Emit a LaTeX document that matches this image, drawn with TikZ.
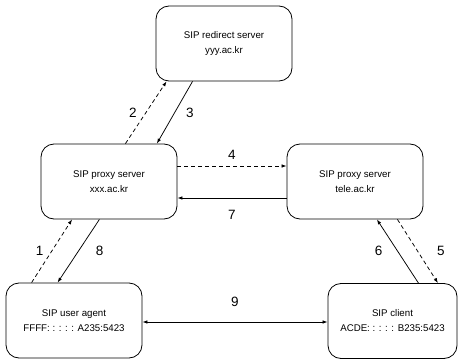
\documentclass[tikz,border=0pt]{standalone}
\usepackage{fontspec}
\setmainfont{Liberation Sans}
\usetikzlibrary{arrows.meta, calc, positioning}

\begin{document}
\begin{tikzpicture}[x=1pt, y=-1pt,
      sipbox/.style={draw, line width=0.8pt, rounded corners=13pt,
         minimum width=136pt, minimum height=75pt, align=center,
         font=\fontsize{9.7}{15}\selectfont},
      msg/.style={-{Latex[length=5pt, width=3.5pt]}, line width=0.75pt},
      req/.style={msg, dash pattern=on 4pt off 3pt},
      num/.style={font=\fontsize{13.5}{14}\selectfont, inner sep=0pt}]
   \useasboundingbox (0,0) rectangle (461,361);
   % servers and end points
   \node[sipbox] (redirect) at (224,43.5) {SIP redirect server\\yyy.ac.kr};
   \node[sipbox] (proxyA) at (109,181.5) {SIP proxy server\\xxx.ac.kr};
   \node[sipbox] (proxyB) at (355,181.5) {SIP proxy server\\tele.ac.kr};
   \node[sipbox] (agent) at (74,320.5) {SIP user agent\\FFFF: : : : : A235:5423};
   \node[sipbox, minimum width=129pt] (client) at (392.5,321)
      {SIP client\\ACDE: : : : : B235:5423};
   % requests (dashed) and replies (solid)
   \draw[req] ($(agent.north west)!0.19!(agent.north east)$)
      -- ($(proxyA.south west)!0.23!(proxyA.south east)$) node[midway, left=8pt, num] {1};
   \draw[req] ($(proxyA.north west)!0.62!(proxyA.north east)$)
      -- ($(redirect.south west)!0.08!(redirect.south east)$) node[midway, left=9pt, num] {2};
   \draw[msg] ($(redirect.south west)!0.27!(redirect.south east)$)
      -- ($(proxyA.north west)!0.85!(proxyA.north east)$) node[midway, right=11pt, num] {3};
   \draw[req] ([yshift=15.5pt]proxyA.east) -- ([yshift=15.5pt]proxyB.west)
      node[midway, above=6pt, num] {4};
   \draw[req] ($(proxyB.south west)!0.81!(proxyB.south east)$)
      -- ($(client.north west)!0.85!(client.north east)$) node[midway, right=19pt, num] {5};
   \draw[msg] ($(client.north west)!0.70!(client.north east)$)
      -- ($(proxyB.south west)!0.66!(proxyB.south east)$) node[midway, left=15pt, num] {6};
   \draw[msg] ([yshift=-16.5pt]proxyB.west) -- ([yshift=-16.5pt]proxyA.east)
      node[midway, below=12pt, num] {7};
   \draw[msg] ($(proxyA.south west)!0.43!(proxyA.south east)$)
      -- ($(agent.north west)!0.38!(agent.north east)$) node[midway, right=17pt, num] {8};
   \draw[msg, {Latex[length=5pt, width=3.5pt]}-{Latex[length=5pt, width=3.5pt]}]
      ([yshift=-1.5pt]agent.east) -- ([yshift=-1pt]client.west) node[midway, above=15pt, num] {9};
\end{tikzpicture}
\end{document}
